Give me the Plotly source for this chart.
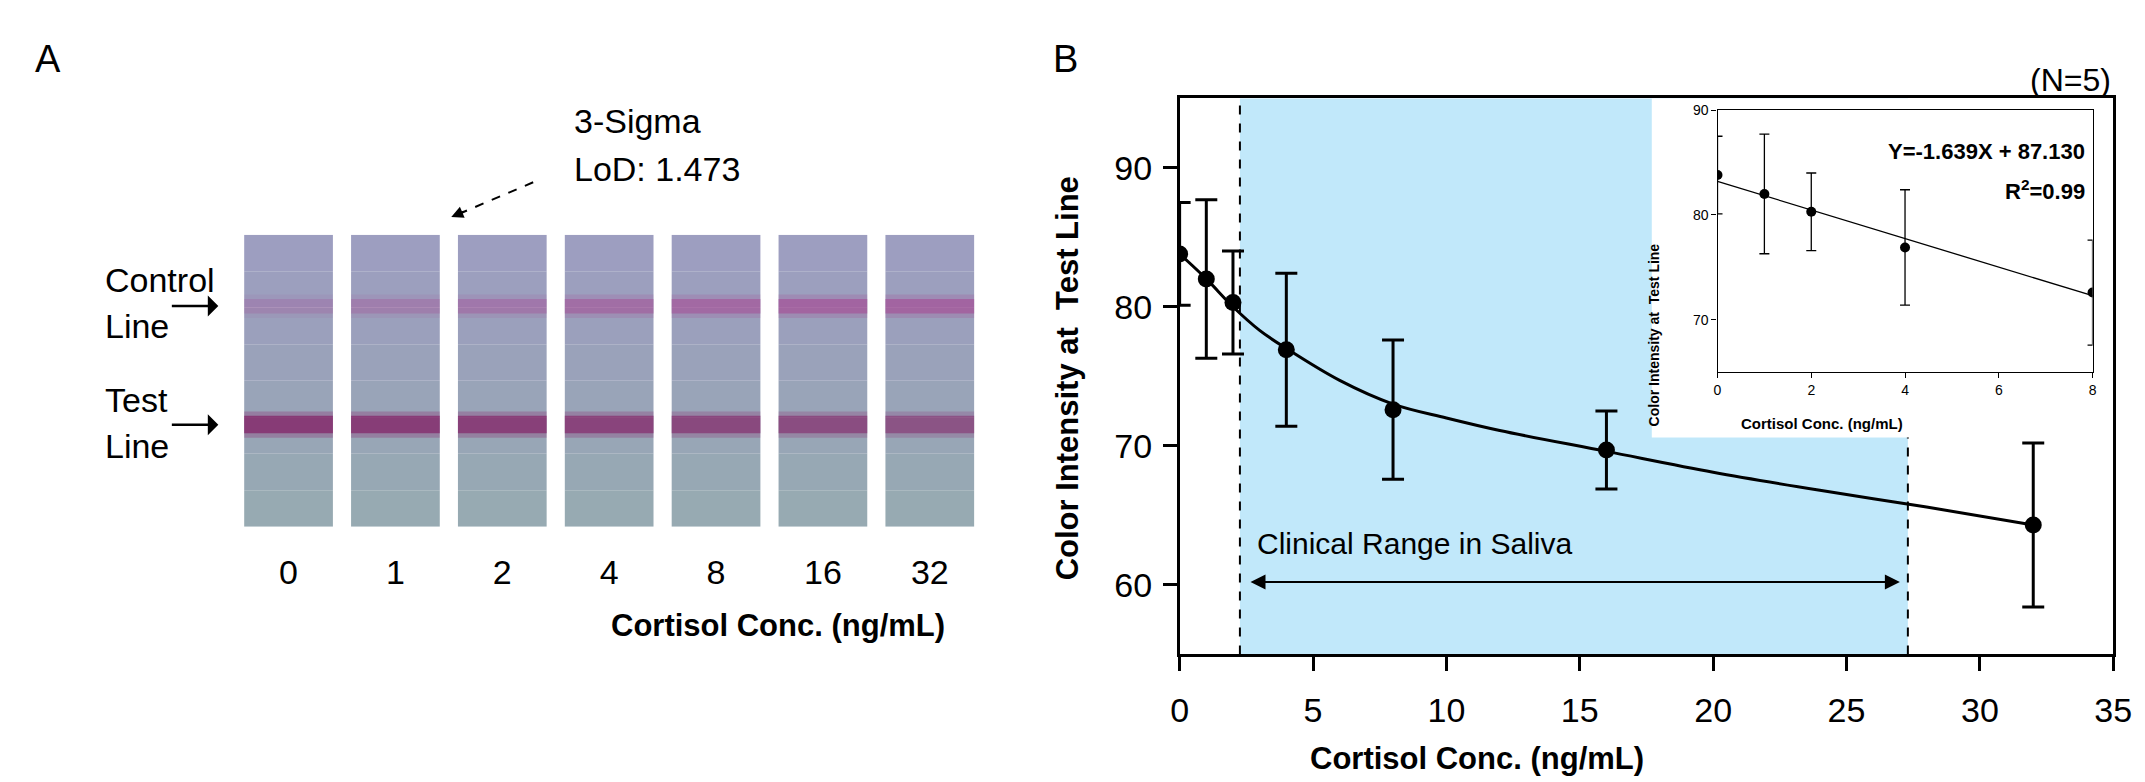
import plotly.graph_objects as go

W, H = 2145, 782
def px(x): return x / W
def py(y): return 1 - y / H

# ---- Panel B data ----
conc = [0, 1, 2, 4, 8, 16, 32]
intensity = [83.8, 82.0, 80.3, 76.9, 72.6, 69.7, 64.3]
err = [3.7, 5.7, 3.7, 5.5, 5.0, 2.8, 5.9]
curve_x = [0, 1, 2, 3, 4, 6, 8, 10, 12, 16, 20, 24, 28, 32]
curve_y = [83.8, 82.0, 80.0, 78.3, 77.0, 74.7, 73.0, 72.0, 71.1, 69.6, 68.1, 66.8, 65.6, 64.3]
clin_lo, clin_hi = 2.26, 27.3
# inset
ins_x = [0, 1, 2, 4, 8]
ins_y = [83.8, 82.0, 80.3, 76.9, 72.6]
ins_err = [3.7, 5.7, 3.7, 5.5, 5.0]
fit_x = [0, 8]
fit_y = [83.2, 72.3]
# ---- Panel A data ----
strip_labels = ["0", "1", "2", "4", "8", "16", "32"]
control_alpha = [0.22, 0.28, 0.35, 0.45, 0.5, 0.55, 0.55]
test_alpha = [0.7, 0.68, 0.66, 0.62, 0.58, 0.55, 0.5]

FONT = "Liberation Sans, Arial, sans-serif"
fig = go.Figure()
idx = list(range(len(strip_labels)))
n = len(idx)

# strip background gradient: top lavender -> bottom grey-blue
grad = ["#97aab2", "#97a8b4", "#98a6b6", "#99a4b8", "#9aa2ba", "#9ba0bc", "#9c9fbe", "#9d9ec0"]
step = 1 / len(grad)
for k, c in enumerate(grad):
    fig.add_trace(go.Bar(x=idx, y=[step]*n, base=[k*step]*n, width=0.83,
                         marker=dict(color=c, line=dict(width=0)),
                         xaxis="x3", yaxis="y3", showlegend=False, hoverinfo="skip"))
for base, hgt, cols in [
    (0.715, 0.08, [f"rgba(165,80,150,{a*0.45})" for a in control_alpha]),
    (0.73, 0.05, [f"rgba(165,70,145,{a})" for a in control_alpha]),
    (0.305, 0.09, [f"rgba(140,40,110,{a*0.45})" for a in test_alpha]),
    (0.32, 0.06, [f"rgba(130,30,100,{a})" for a in test_alpha]),
]:
    fig.add_trace(go.Bar(x=idx, y=[hgt]*n, base=[base]*n, width=0.83,
                         marker=dict(color=cols, line=dict(width=0)),
                         xaxis="x3", yaxis="y3", showlegend=False, hoverinfo="skip"))

# Panel B main
fig.add_trace(go.Scatter(x=curve_x, y=curve_y, mode="lines", line=dict(color="black", width=3, shape="spline"),
                         showlegend=False, hoverinfo="skip"))
fig.add_trace(go.Scatter(x=conc, y=intensity, mode="markers",
                         marker=dict(color="black", size=17),
                         error_y=dict(type="data", array=err, color="black", thickness=3, width=11),
                         showlegend=False))
# inset
fig.add_trace(go.Scatter(x=fit_x, y=fit_y, mode="lines", line=dict(color="black", width=1.3),
                         xaxis="x2", yaxis="y2", showlegend=False, hoverinfo="skip"))
fig.add_trace(go.Scatter(x=ins_x, y=ins_y, mode="markers", marker=dict(color="black", size=10),
                         error_y=dict(type="data", array=ins_err, color="black", thickness=1.3, width=5),
                         xaxis="x2", yaxis="y2", showlegend=False))

shapes = [
    dict(type="rect", xref="x", yref="y", x0=clin_lo, x1=clin_hi, y0=55, y1=95,
         fillcolor="#c1e8fa", line=dict(width=0), layer="below"),
    dict(type="line", xref="x", yref="y", x0=clin_lo, x1=clin_lo, y0=55, y1=95,
         line=dict(color="black", width=2, dash="dash"), layer="below"),
    dict(type="line", xref="x", yref="y", x0=clin_hi, x1=clin_hi, y0=55, y1=95,
         line=dict(color="black", width=2, dash="dash"), layer="below"),
    dict(type="rect", xref="x", yref="y", x0=17.7, x1=35, y0=70.6, y1=95,
         fillcolor="white", line=dict(width=0), layer="below"),
    dict(type="line", xref="paper", yref="paper", x0=px(523), y0=py(168), x1=px(450), y1=py(199),
         line=dict(color="black", width=2, dash="dash")),
]

ann = []
def txt(x, y, t, size, bold=False, **kw):
    d = dict(xref="paper", yref="paper", x=px(x), y=py(y), text=f"<b>{t}</b>" if bold else t,
             showarrow=False, font=dict(family=FONT, size=size, color="black"))
    d.update(kw)
    ann.append(d)

txt(16, 20, "A", 38)
txt(1062, 20, "B", 38)
txt(87, 267, "Control", 34)
txt(87, 313, "Line", 34)
txt(87, 388, "Test", 34)
txt(87, 434, "Line", 34)
txt(562, 85, "3-Sigma", 34)
txt(562, 133, "LoD: 1.473", 34)
txt(600, 636, "Cortisol Conc. (ng/mL)", 31, bold=True)
txt(2124, 44, "(N=5)", 32, xanchor="right")
txt(1651, 770, "Cortisol Conc. (ng/mL)", 31, bold=True)
txt(1064, 366, "Color Intensity at  Test Line", 31, bold=True, textangle=-90)
txt(1578, 552, "Clinical Range in Saliva", 30)
txt(2097, 122, "Y=-1.639X + 87.130", 22, bold=True, xanchor="right")
txt(2097, 160, "R<sup>2</sup>=0.99", 22, bold=True, xanchor="right")
txt(1913, 412, "Cortisol Conc. (ng/mL)", 15, bold=True)
txt(1669, 228, "Color Intensity at  Test Line", 14, bold=True, textangle=-90)

for yy in (293, 413):
    ann.append(dict(xref="paper", yref="paper", x=px(204), y=py(yy), ax=-48, ay=0, text="",
                    showarrow=True, arrowhead=1, arrowsize=1.4, arrowwidth=2.5, arrowcolor="black"))
ann.append(dict(xref="paper", yref="paper", x=px(440), y=py(203), ax=14, ay=-6, text="",
                showarrow=True, arrowhead=2, arrowsize=1.2, arrowwidth=2, arrowcolor="black"))
ann.append(dict(xref="x", yref="y", x=27.0, y=60.2, axref="x", ayref="y", ax=2.6, ay=60.2, text="",
                showarrow=True, arrowhead=2, startarrowhead=2, arrowside="end+start",
                arrowsize=1.5, startarrowsize=1.5, arrowwidth=2, arrowcolor="black"))

axis_common = dict(showgrid=False, zeroline=False, linecolor="black", ticks="outside",
                   tickcolor="black")
fig.update_layout(
    width=W, height=H, margin=dict(l=0, r=0, t=0, b=0),
    plot_bgcolor="rgba(0,0,0,0)", paper_bgcolor="white", barmode="overlay",
    font=dict(family=FONT, color="black"),
    shapes=shapes, annotations=ann,
    xaxis=dict(domain=[px(1178), px(2124)], range=[0, 35], tickvals=[0, 5, 10, 15, 20, 25, 30, 35],
               linewidth=2.5, mirror=True, ticklen=14, tickwidth=2.5, ticklabelstandoff=10,
               tickfont=dict(size=34), **axis_common),
    yaxis=dict(domain=[py(645), py(83)], range=[55, 95], tickvals=[60, 70, 80, 90],
               linewidth=2.5, mirror=True, ticklen=14, tickwidth=2.5, ticklabelstandoff=4,
               tickfont=dict(size=34), **axis_common),
    xaxis2=dict(domain=[px(1723), px(2103)], range=[0, 8], tickvals=[0, 2, 4, 6, 8], anchor="y2",
                linewidth=1.3, mirror=True, ticklen=5, tickwidth=1.3, tickfont=dict(size=14), **axis_common),
    yaxis2=dict(domain=[py(360), py(95)], range=[65, 90], tickvals=[70, 80, 90], anchor="x2",
                linewidth=1.3, mirror=True, ticklen=5, tickwidth=1.3, tickfont=dict(size=14), **axis_common),
    xaxis3=dict(domain=[px(221), px(979)], range=[-0.5, 6.5], anchor="y3", tickvals=idx,
                ticktext=strip_labels, showline=False, showgrid=False, zeroline=False, ticks="",
                ticklabelstandoff=22, tickfont=dict(size=34)),
    yaxis3=dict(domain=[py(516), py(221)], range=[0, 1], anchor="x3", visible=False),
)
fig.write_html("out.html")
